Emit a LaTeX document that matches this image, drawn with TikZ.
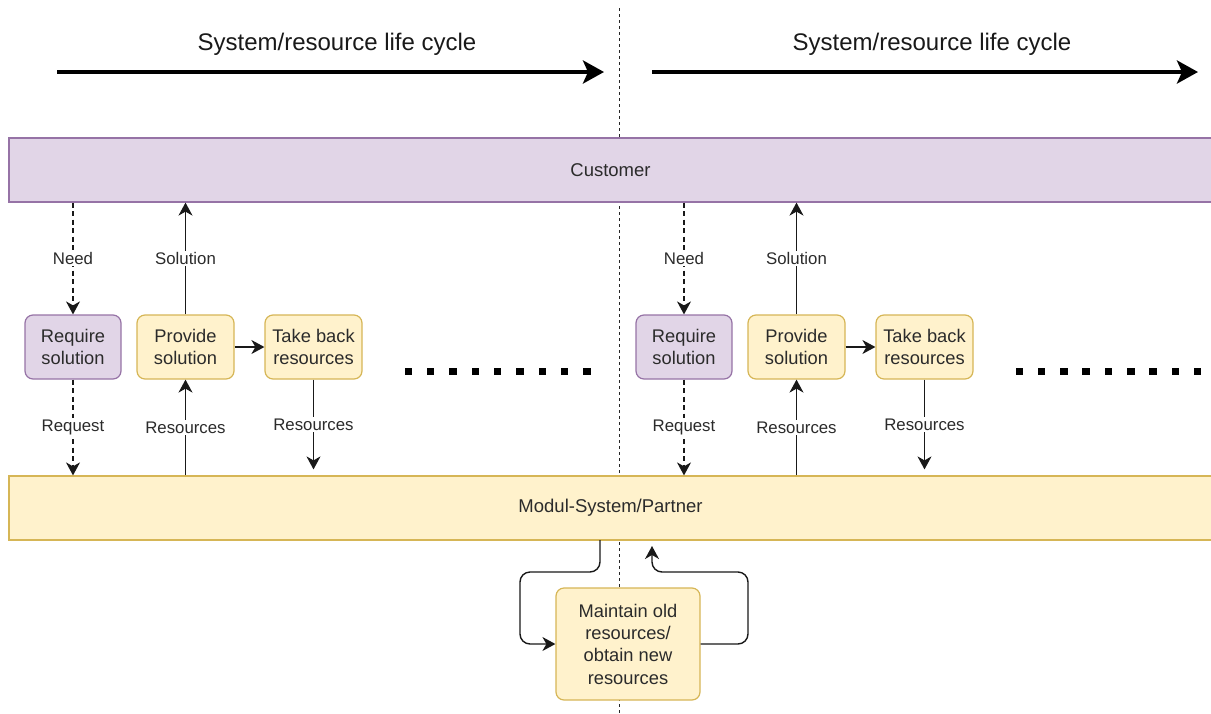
\documentclass[tikz,border=0pt]{standalone}
\usepackage{fontspec}
\setmainfont{Liberation Sans}
\usetikzlibrary{arrows.meta,calc}
\definecolor{lilacfill}{HTML}{E1D5E7}
\definecolor{lilacline}{HTML}{9673A6}
\definecolor{sandfill}{HTML}{FFF2CC}
\definecolor{sandline}{HTML}{D6B656}
\definecolor{inktext}{HTML}{2B2B2B}
\begin{document}
\begin{tikzpicture}[x=1pt,y=-1pt,
  bar/.style={draw,line width=1.2pt,minimum width=1203pt,minimum height=64pt,
    inner sep=0pt,text=inktext,font=\fontsize{18.5}{20}\selectfont},
  purplebar/.style={bar,fill=lilacfill,draw=lilacline},
  yellowbar/.style={bar,fill=sandfill,draw=sandline},
  stepbox/.style={draw,line width=1.2pt,rounded corners=8pt,minimum height=64pt,
    inner sep=0pt,align=center,text=inktext,
    font=\fontsize{18.3}{22.3}\selectfont},
  purplebox/.style={stepbox,fill=lilacfill,draw=lilacline,minimum width=96pt},
  yellowbox/.style={stepbox,fill=sandfill,draw=sandline,minimum width=97pt},
  conn/.style={line width=1.4pt,draw=black!90,-{Stealth[length=13pt,width=14pt,inset=4pt]}},
  dconn/.style={conn,dash pattern=on 5pt off 3.5pt},
  lbl/.style={fill=white,inner sep=1.5pt,text=inktext,font=\fontsize{16.8}{18}\selectfont},
  flow/.style={line width=4pt,-{Stealth[length=21pt,width=23pt,inset=5pt]}},
  title/.style={font=\fontsize{24}{28}\selectfont,text=black!90}
]
\useasboundingbox (0,0) rectangle (1211,713);

% phase divider
\draw[line width=1.3pt,black!85,dash pattern=on 3pt off 3pt] (619.5,8) -- (619.5,713);

% life cycle arrows
\node[title] (t1) at (337,44) {System/resource life cycle};
\node[title] (t2) at (932,44) {System/resource life cycle};
\coordinate (f1a) at (57,72);  \coordinate (f1b) at (604,72);
\coordinate (f2a) at (652,72); \coordinate (f2b) at (1198,72);
\draw[flow] (f1a) -- (f1b);
\draw[flow] (f2a) -- (f2b);

% actors
\node[purplebar] (cust) at (610.5,170) {Customer};
\node[yellowbar] (modul) at (610.5,508) {Modul-System/Partner};

% first cycle
\node[purplebox] (req1) at (73,347) {Require\\solution};
\node[yellowbox] (prov1) at (185.5,347) {Provide\\solution};
\node[yellowbox] (back1) at (313.5,347) {Take back\\resources};

% second cycle
\node[purplebox] (req2) at (684,347) {Require\\solution};
\node[yellowbox] (prov2) at (796.5,347) {Provide\\solution};
\node[yellowbox] (back2) at (924.5,347) {Take back\\resources};

% exchanges of each cycle
\foreach \k in {1,2}{
  \draw[dconn] (cust.south -| req\k.north) -- node[lbl] {Need} (req\k.north);
  \draw[conn] (prov\k.north) -- node[lbl] {Solution} (cust.south -| prov\k.north);
  \draw[conn] (prov\k.east) -- (back\k.west);
  \draw[dconn] (req\k.south) -- node[lbl] {Request} (modul.north -| req\k.south);
  \draw[conn] (modul.north -| prov\k.south) -- node[lbl] {Resources} (prov\k.south);
  \coordinate (rt\k) at ($(modul.north -| back\k.south)+(0,-6)$);
  \draw[conn] (back\k.south) -- node[lbl] {Resources} (rt\k);
}

% continuation marks
\foreach \i in {0,...,8}{
  \fill[black] (404.5+22.35*\i,367.5) rectangle ++(7.5,7.5);
  \fill[black] (1015.5+22.3*\i,367.5) rectangle ++(7.5,7.5);
}

% resource maintenance loop
\node[stepbox,fill=sandfill,draw=sandline,minimum width=144pt,minimum height=112pt]
  (maint) at (628,644) {Maintain old\\resources/\\obtain new\\resources};
\coordinate (lout) at (600,540);
\coordinate (lin)  at (652,546);
\draw[conn,rounded corners=10pt] (lout) -- (600,572) -- (520,572) -- (520,644) -- (maint.west);
\draw[conn,rounded corners=10pt] (maint.east) -- (748,644) -- (748,572) -- (652,572) -- (lin);
\end{tikzpicture}
\end{document}
